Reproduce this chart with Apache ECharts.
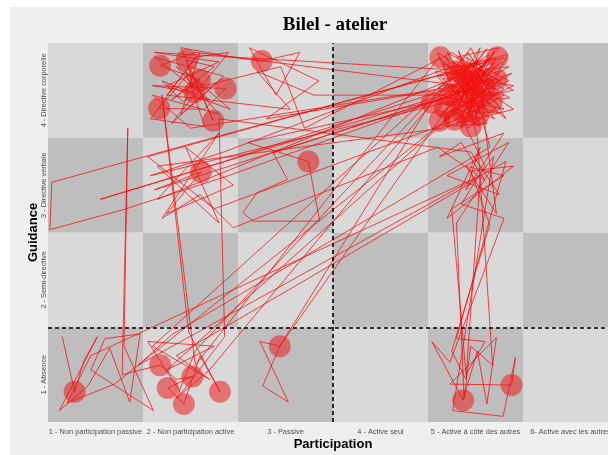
<!DOCTYPE html>
<html>
<head>
<meta charset="utf-8">
<script src="https://cdn.jsdelivr.net/npm/echarts@6/dist/echarts.min.js"></script>
<style>
html,body{margin:0;padding:0;background:#fff;}
#chart{width:608px;height:455px;}
</style>
</head>
<body>
<div id="chart"></div>
<script>
// ---- Data ----
const chartTitle = 'Bilel - atelier';
const xTitle = 'Participation';
const yTitle = 'Guidance';
const participationLabels = [
  '1 - Non participation passive',
  '2 - Non participation active',
  '3 - Passive',
  '4 - Active seul',
  '5 - Active à côté des autres',
  '6- Active avec les autres'
];
const guidanceLabels = [
  '1 - Absence',
  '2 - Semi-directive',
  '3 - Directive verbale',
  '4 - Directive corporelle'
];
// thresholds (dashed lines)
const participationThreshold = 3.5;
const guidanceThreshold = 1.5;

// observed trajectory (participation, guidance), jittered inside cells
const trajectory = [
  [0.65,1.40],[0.78,0.82],[0.88,1.15],[1.02,1.40],[0.62,0.62],[0.92,0.88],[1.15,1.28],[1.36,0.71],[1.47,1.43],[1.10,1.38],
  [0.95,1.05],[1.61,0.62],[1.30,1.30],[1.34,3.60],[1.28,1.00],[1.68,1.10],[1.85,0.95],[2.02,0.98],[1.76,0.86],[1.93,0.69],
  [2.10,1.20],[2.31,0.82],[1.98,1.45],[1.70,3.95],[2.05,1.10],
  [4.62,4.35],[4.90,4.10],[4.75,3.85],[5.10,4.20],[4.95,3.95],[5.22,4.34],[4.85,4.25],[5.05,3.75],[4.70,4.05],[5.30,3.95],
  [4.80,3.70],[5.15,4.05],
  [4.60,4.40],[4.72,4.10],[4.95,4.45],[5.10,4.15],[4.82,3.90],[5.28,4.30],[4.65,3.95],[5.00,4.20],[4.78,3.75],[5.18,3.95],
  [4.90,4.35],[5.35,4.10],[4.70,3.85],[5.05,3.70],[4.85,4.05],
  [2.05,4.40],[1.68,4.26],[2.10,4.11],[1.80,3.90],[2.25,4.25],[1.96,4.32],[2.04,3.98],[1.60,4.05],[2.37,4.02],[2.15,3.80],
  [1.67,3.81],[2.00,4.20],[2.24,3.68],[1.90,4.45],[2.45,4.35],
  [2.75,4.31],[3.15,4.40],[2.90,3.95],[2.62,4.45],[3.35,4.10],[2.80,3.70],
  [4.58,4.00],[5.00,4.30],[4.72,4.15],[5.40,4.05],[4.90,3.80],[5.20,4.42],[4.65,3.75],[5.05,4.15],
  [4.58,4.20],[4.95,3.80],[5.20,4.05],[4.75,4.30],[5.12,3.65],[4.68,3.62],[5.40,3.80],[4.88,4.15],[5.02,3.92],[4.62,3.72],
  [5.25,4.45],[4.80,4.35],[5.08,4.08],[4.72,3.98],
  [5.10,3.20],[4.85,2.80],[5.30,2.65],[4.73,1.13],[4.54,1.35],[4.87,0.73],[5.02,1.25],[5.12,0.69],[5.22,1.39],[4.73,0.90],
  [5.38,0.89],[5.42,1.18],[5.29,0.56],[4.76,0.62],[5.19,3.30],[5.00,3.05],
  [1.85,1.20],[2.20,0.95],[1.60,1.30],
  [4.80,4.20],[5.05,3.90],[4.70,4.40],[5.25,4.10],
  [1.62,2.95],[2.11,3.14],[1.75,2.70],[2.45,3.00],[1.95,3.40],[2.30,2.60],[1.65,3.20],
  [4.65,3.60],[4.95,4.05],[5.15,3.85],[4.75,4.25],
  [4.98,4.25],[5.32,3.70],[4.66,4.28],[4.92,3.60],[5.22,3.82],[4.76,4.12],[5.14,4.38],[4.86,3.84],[5.38,4.18],[4.60,3.90],
  [4.96,4.02],
  [2.87,3.34],[3.02,3.06],[2.70,2.92],[2.55,2.71],[2.66,2.62],[3.36,2.62],[3.24,3.25],[2.60,3.45],
  [4.85,3.95],[5.35,4.25],[4.60,4.15],[5.00,3.65],[4.78,4.05],[5.12,4.30],
  [0.54,3.03],[0.52,2.53],[1.29,2.74],[2.40,3.10],
  [4.90,4.00],[5.20,3.70],[4.70,3.90],[5.05,4.45],[4.82,3.80],
  [1.75,1.05],[2.25,1.30],[1.55,1.35],[1.90,0.80],[2.36,1.40],[2.30,3.70],
  [4.95,3.35],[5.25,2.90],[4.70,3.10],[5.35,3.45],[4.80,2.60],
  [4.88,0.75],[4.95,1.30],[5.18,1.10],
  [5.02,3.50],[4.85,4.10],[5.10,4.00],[4.65,4.30],[5.30,3.80],
  [4.74,3.92],[5.06,4.26],[4.84,3.66],[5.24,3.92],[4.92,4.40],[4.66,4.12],[5.16,4.16],[4.98,3.68],[5.34,4.38],[4.70,4.22],
  [1.62,4.40],[2.30,4.30],[1.75,4.05],[2.42,3.80],[1.95,4.20],[2.15,3.62],[1.58,3.70],[2.05,4.35],[2.40,4.40],[1.80,3.65],
  [2.28,4.08],[1.92,3.88],
  [1.70,4.10],[2.20,3.90],[1.62,4.35],[2.35,4.15],[1.90,3.75],[2.10,4.40],[1.75,3.95],
  [3.05,3.80],[2.70,4.20],[3.30,3.95],
  [4.75,3.95],[5.15,4.20],[4.90,3.70],[5.25,4.00],[4.72,4.20],[5.00,3.85],
  [4.82,4.42],[5.10,3.82],[4.62,3.86],[5.36,3.92],[4.88,4.20],[5.04,3.62],[4.76,3.78],[5.20,4.30],
  [1.65,2.85],[2.30,3.55],[1.70,2.65],[2.10,2.90],[2.45,2.55],
  [4.60,3.40],[5.10,3.05],[4.85,3.45],
  [4.62,3.30],[5.30,3.55],[4.90,2.95],[5.05,3.40],[4.70,2.65],[5.40,3.20],[4.95,3.15],[5.15,2.58],
  [4.75,1.25],[4.90,0.95],[5.05,3.10],
  [0.95,1.20],[0.70,0.70],[1.20,0.90],
  [4.95,3.90],[5.20,4.25],[4.80,4.00],[5.30,4.35],
  [1.55,3.30],[2.25,2.75],
  [4.88,3.72],[5.18,4.12],[4.64,4.05],
  [2.94,1.30],[2.76,0.88],[3.03,0.71],[2.73,1.35],[2.94,1.30],
  [4.70,3.80],[5.05,4.10],[4.85,3.60],[5.20,3.95],[4.62,4.00],
  [2.05,1.25],[1.85,0.75],[2.20,1.05],
  [4.90,4.30],[5.10,3.75],[4.78,4.10],[5.25,4.20],[4.95,3.85],
  [4.68,4.36],[5.00,3.96],[4.80,3.64],[5.30,4.02],[4.90,4.18],[5.12,4.44],[4.72,3.88],
  [1.58,3.10],[2.35,3.35],
  [4.82,4.28],[5.12,3.90],[4.66,3.68],[5.28,4.12],
  [2.00,3.60],[1.60,3.95],[2.30,3.75],[1.85,4.25],[2.15,4.05],
  [2.95,4.25],[3.20,3.60],
  [4.75,4.40],[5.40,4.00],[4.88,3.90],[5.15,4.35],[4.68,3.70],[5.05,4.00],
  [5.22,2.70],[4.90,3.20],[5.30,3.10],[4.75,2.75],
  [4.90,1.00],[5.10,1.35],[4.80,1.38],[5.32,3.25],
  [1.45,1.10],[1.80,1.42],
  [5.15,3.40],[4.95,4.15],[5.10,3.95],[4.80,4.25],[5.00,4.05],
  [1.05,2.85],[2.20,3.20],
  [4.72,4.02],[5.02,4.32],[4.94,3.78],[5.26,3.76],[4.60,3.96],[5.08,4.22]
];

// long-duration states (large circles)
const highlights = [
  [1.68,4.26],[1.96,4.32],[2.10,4.11],[2.04,3.98],[2.37,4.02],[1.67,3.81],[2.24,3.68],[2.75,4.31],
  [2.11,3.14],[3.24,3.25],
  [4.63,4.35],[5.23,4.35],[4.91,4.13],[4.73,3.95],[5.10,4.03],[5.17,3.88],[4.68,3.82],[4.86,3.77],
  [5.03,3.74],[4.78,3.69],[4.54,3.87],[4.80,4.20],[5.00,3.95],[4.62,3.68],[5.22,4.12],[4.95,3.62],
  [2.94,1.30],[0.78,0.82],[1.68,1.10],[2.02,0.98],[1.76,0.86],[2.31,0.82],[1.93,0.69],
  [4.87,0.73],[5.38,0.89]
];

// ---- Chart ----
const cells = [];
for (let i = 1; i <= participationLabels.length; i++) {
  for (let j = 1; j <= guidanceLabels.length; j++) {
    cells.push([i, j, (i + j) % 2 === 0 ? 1 : 0]);
  }
}

const chart = echarts.init(document.getElementById('chart'), null, {renderer: 'canvas'});
const tickFont = {fontFamily: 'Liberation Sans', fontSize: 7.4, color: '#4d4d4d'};

chart.setOption({
  animation: false,
  backgroundColor: '#ffffff',
  graphic: [{
    type: 'rect', z: -10, silent: true,
    shape: {x: 10, y: 7, width: 598, height: 448},
    style: {fill: '#efefef'}
  }],
  title: {
    text: chartTitle,
    left: 330, top: 11, textAlign: 'center',
    textStyle: {fontFamily: 'Liberation Serif', fontWeight: 'bold', fontSize: 19, color: '#000'}
  },
  grid: {left: 48, top: 43, width: 570, height: 379, containLabel: false, outerBoundsMode: 'none'},
  xAxis: {
    type: 'value', min: 0.5, max: 6.5, interval: 0.5,
    name: xTitle, nameLocation: 'middle', nameGap: 16, nameMoveOverlap: false,
    nameTextStyle: {fontFamily: 'Liberation Sans', fontWeight: 'bold', fontSize: 13, color: '#000'},
    axisLine: {show: false}, axisTick: {show: false}, splitLine: {show: false},
    axisLabel: Object.assign({
      margin: 6, showMinLabel: true, showMaxLabel: true, hideOverlap: false,
      formatter: v => Number.isInteger(v) ? participationLabels[v - 1] : ''
    }, tickFont)
  },
  yAxis: {
    type: 'value', min: 0.5, max: 4.5, interval: 0.5,
    name: yTitle, nameLocation: 'middle', nameGap: 8, nameRotate: 90, nameMoveOverlap: false,
    nameTextStyle: {fontFamily: 'Liberation Sans', fontWeight: 'bold', fontSize: 13, color: '#000'},
    axisLine: {show: false}, axisTick: {show: false}, splitLine: {show: false},
    axisLabel: Object.assign({
      margin: 1, rotate: 90,
      formatter: v => Number.isInteger(v) ? guidanceLabels[v - 1] : ''
    }, tickFont)
  },
  series: [
    {
      type: 'custom', silent: true, z: 1, clip: false,
      data: cells,
      renderItem: function (params, api) {
        const i = api.value(0), j = api.value(1);
        const p0 = api.coord([i - 0.5, j + 0.5]);
        const p1 = api.coord([i + 0.5, j - 0.5]);
        return {
          type: 'rect',
          shape: {x: p0[0], y: p0[1], width: p1[0] - p0[0], height: p1[1] - p0[1]},
          style: {fill: api.value(2) === 1 ? '#bebebe' : '#d9d9d9'}
        };
      }
    },
    {
      type: 'line', z: 3, silent: true,
      data: trajectory,
      showSymbol: false, symbol: 'none',
      lineStyle: {color: 'rgba(255,0,0,0.8)', width: 0.9},
      markLine: {
        silent: true, symbol: 'none', label: {show: false},
        lineStyle: {color: '#000', type: [4, 3], width: 1.6},
        data: [{xAxis: participationThreshold}, {yAxis: guidanceThreshold}]
      }
    },
    {
      type: 'scatter', z: 4, silent: true,
      data: highlights,
      symbolSize: 22,
      itemStyle: {color: 'rgba(235,25,25,0.68)'}
    }
  ]
});
</script>
</body>
</html>
